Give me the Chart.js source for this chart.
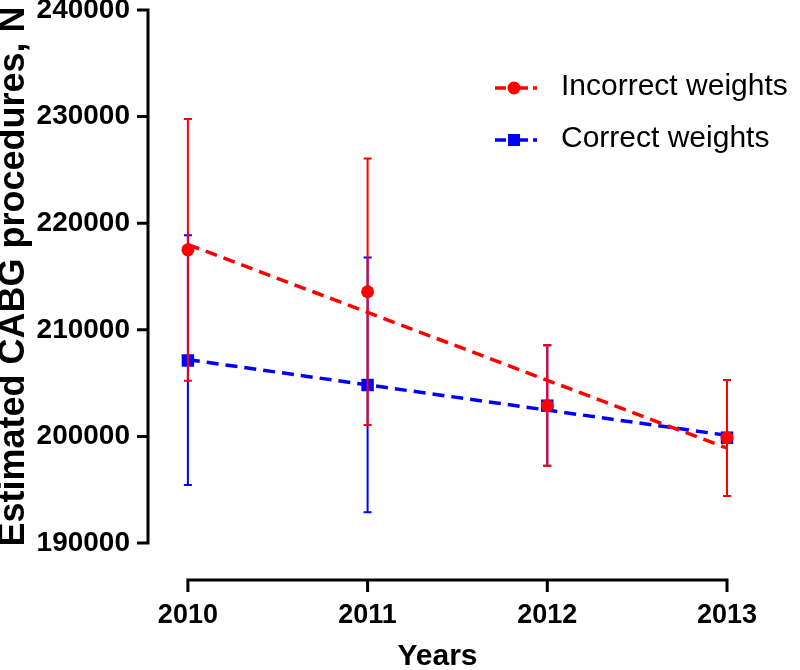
<!DOCTYPE html>
<html>
<head>
<meta charset="utf-8">
<script src="https://cdn.jsdelivr.net/npm/chart.js@4.4.1/dist/chart.umd.min.js"></script>
<style>
html,body{margin:0;padding:0;background:#ffffff;}
#wrap{width:800px;height:670px;position:relative;}
</style>
</head>
<body>
<div id="wrap"><canvas id="c" width="800" height="670"></canvas></div>
<script>
// ---- data ----
const years = [2010, 2011, 2012, 2013];
const yTicks = [190000, 200000, 210000, 220000, 230000, 240000];

const incorrectMean = [217500, 213570, 202880, 199880];
const incorrectLow  = [205220, 201070, 197250, 194410];
const incorrectHigh = [229780, 226060, 208550, 205290];

const correctMean = [207120, 204820, 202880, 199880];
const correctLow  = [195450, 192880, 197250, 194410];
const correctHigh = [218880, 216790, 208550, 205290];

// fitted (dashed) trend lines: value at first and last year
const trendYears = [2010, 2013];
const incorrectTrend = [218000, 198900];
const correctTrend   = [207200, 200100];

const seriesNames = ['Incorrect weights', 'Correct weights'];

// ---- styles ----
const RED = '#ff0000';
const BLUE = '#0000ff';
const FONT = "'Liberation Sans', Arial, Helvetica, sans-serif";

const pts = (xs, ys) => xs.map((x, i) => ({x: x, y: ys[i]}));

const errorBars = {
  id: 'errorBars',
  beforeDatasetDraw(chart, args) {
    const ds = chart.data.datasets[args.index];
    if (!ds.errLow) return;
    const xs = chart.scales.x, ys = chart.scales.y;
    const ctx = chart.ctx;
    ctx.save();
    ctx.strokeStyle = ds.errColor;
    ctx.lineWidth = 2;
    ds.data.forEach((p, i) => {
      const x = xs.getPixelForValue(p.x);
      const yl = ys.getPixelForValue(ds.errLow[i]);
      const yh = ys.getPixelForValue(ds.errHigh[i]);
      ctx.beginPath();
      ctx.moveTo(x, yl); ctx.lineTo(x, yh);
      ctx.moveTo(x - 4, yl); ctx.lineTo(x + 4, yl);
      ctx.moveTo(x - 4, yh); ctx.lineTo(x + 4, yh);
      ctx.stroke();
    });
    ctx.restore();
  }
};

const axesPlugin = {
  id: 'axesPlugin',
  afterDraw(chart) {
    const ctx = chart.ctx;
    const xs = chart.scales.x, ys = chart.scales.y;
    const ca = chart.chartArea;
    ctx.save();
    ctx.strokeStyle = '#000';
    ctx.lineWidth = 3;
    ctx.lineCap = 'butt';
    // y axis
    const yTop = ys.getPixelForValue(yTicks[yTicks.length - 1]);
    const yBot = ys.getPixelForValue(yTicks[0]);
    ctx.beginPath();
    ctx.moveTo(ca.left, yTop - 1.5);
    ctx.lineTo(ca.left, yBot + 1.5);
    yTicks.forEach(v => {
      const y = ys.getPixelForValue(v);
      ctx.moveTo(ca.left - 11, y);
      ctx.lineTo(ca.left, y);
    });
    ctx.stroke();
    // x axis (offset below the plot)
    const ax = ca.bottom + 37;
    const x0 = xs.getPixelForValue(years[0]);
    const x1 = xs.getPixelForValue(years[years.length - 1]);
    ctx.beginPath();
    ctx.moveTo(x0 - 1.5, ax);
    ctx.lineTo(x1 + 1.5, ax);
    years.forEach(v => {
      const x = xs.getPixelForValue(v);
      ctx.moveTo(x, ax);
      ctx.lineTo(x, ax + 12);
    });
    ctx.stroke();
    ctx.restore();
  }
};

const legendPlugin = {
  id: 'customLegend',
  afterDraw(chart) {
    const ctx = chart.ctx;
    const rows = [
      {name: seriesNames[0], color: RED, shape: 'circle', y: 88},
      {name: seriesNames[1], color: BLUE, shape: 'square', y: 140}
    ];
    ctx.save();
    rows.forEach(r => {
      ctx.strokeStyle = r.color;
      ctx.fillStyle = r.color;
      ctx.lineWidth = 3.5;
      ctx.beginPath();
      ctx.moveTo(495, r.y); ctx.lineTo(506, r.y);
      ctx.moveTo(520, r.y); ctx.lineTo(528, r.y);
      ctx.moveTo(533, r.y); ctx.lineTo(537, r.y);
      ctx.stroke();
      ctx.beginPath();
      if (r.shape === 'circle') {
        ctx.arc(514, r.y, 6.5, 0, Math.PI * 2);
      } else {
        ctx.rect(508, r.y - 6, 12, 12);
      }
      ctx.fill();
      ctx.fillStyle = '#000';
      ctx.font = '30px ' + FONT;
      ctx.textBaseline = 'middle';
      ctx.textAlign = 'left';
      ctx.fillText(r.name, 561, r.y - 1);
    });
    ctx.restore();
  }
};

const ctx = document.getElementById('c').getContext('2d');
new Chart(ctx, {
  type: 'scatter',
  data: {
    datasets: [
      {
        label: seriesNames[0],
        data: pts(years, incorrectMean),
        errLow: incorrectLow, errHigh: incorrectHigh, errColor: RED,
        pointStyle: 'circle', pointRadius: 6.5, pointBackgroundColor: RED,
        pointBorderWidth: 0, borderColor: RED, showLine: false, clip: false
      },
      {
        label: seriesNames[0] + ' trend',
        data: pts(trendYears, incorrectTrend),
        showLine: true, borderColor: RED, borderWidth: 3.5,
        borderDash: [12, 7], pointRadius: 0, clip: false
      },
      {
        label: seriesNames[1],
        data: pts(years, correctMean),
        errLow: correctLow, errHigh: correctHigh, errColor: BLUE,
        pointStyle: 'rect', pointRadius: 8.8, pointBackgroundColor: BLUE,
        pointBorderWidth: 0, borderColor: BLUE, showLine: false, clip: false
      },
      {
        label: seriesNames[1] + ' trend',
        data: pts(trendYears, correctTrend),
        showLine: true, borderColor: BLUE, borderWidth: 3.5,
        borderDash: [12, 7], pointRadius: 0, clip: false
      }
    ]
  },
  options: {
    responsive: false,
    animation: false,
    devicePixelRatio: 1,
    layout: {padding: {top: 10, right: 73, left: 0, bottom: 0}},
    plugins: {legend: {display: false}, tooltip: {enabled: false}},
    scales: {
      x: {
        type: 'linear',
        position: 'bottom',
        min: 2009.778,
        max: 2013,
        afterBuildTicks: s => { s.ticks = years.map(v => ({value: v})); },
        afterFit: s => { s.height = 127; s.paddingLeft = 0; s.paddingRight = 0; },
        grid: {display: false, drawTicks: false},
        border: {display: false},
        ticks: {
          color: '#000',
          font: {family: FONT, size: 27, weight: 'bold'},
          padding: 56,
          maxRotation: 0,
          callback: v => String(v)
        },
        title: {
          display: true, text: 'Years', color: '#000',
          font: {family: FONT, size: 30, weight: 'bold', lineHeight: 0.9},
          padding: {top: 0, bottom: 0}
        }
      },
      y: {
        min: yTicks[0],
        max: yTicks[yTicks.length - 1],
        afterBuildTicks: s => { s.ticks = yTicks.map(v => ({value: v})); },
        afterFit: s => { s.width = 148; s.paddingTop = 0; s.paddingBottom = 0; },
        grid: {display: false, drawTicks: false},
        border: {display: false},
        ticks: {
          color: '#000',
          font: {family: FONT, size: 28, weight: 'bold'},
          padding: 18,
          callback: v => String(v)
        },
        title: {
          display: true, text: 'Estimated CABG procedures, N', color: '#000',
          font: {family: FONT, size: 36, weight: 'bold', lineHeight: 0.8},
          padding: {top: 0, bottom: 0}
        }
      }
    }
  },
  plugins: [errorBars, axesPlugin, legendPlugin]
});
</script>
</body>
</html>
